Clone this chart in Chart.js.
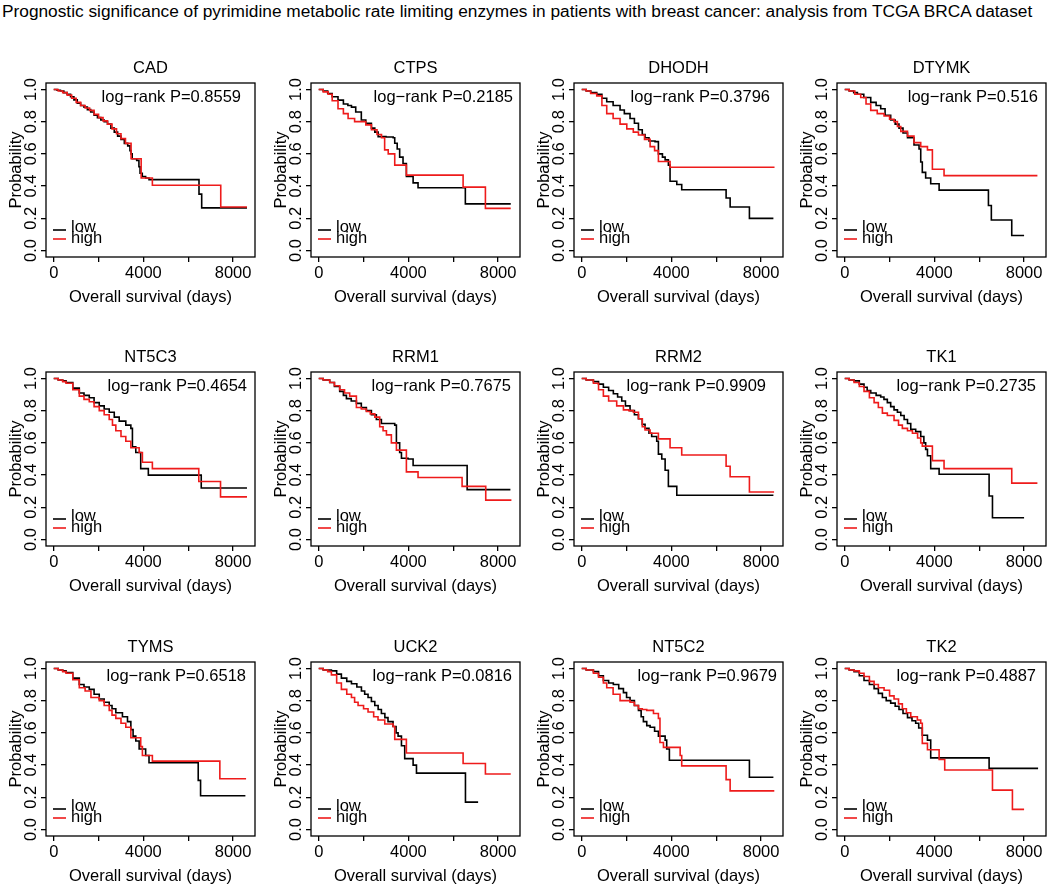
<!DOCTYPE html>
<html>
<head>
<meta charset="utf-8">
<title>Pyrimidine enzymes survival</title>
<script src="https://cdn.jsdelivr.net/npm/chart.js@4.4.1/dist/chart.umd.min.js"></script>
<style>
  html, body { margin: 0; padding: 0; background: #fff; overflow: hidden; }
  body { width: 1048px; height: 889px; position: relative; }
  #title { position: absolute; left: 2px; top: 1px; font: 17.3px 'Liberation Sans', Arial, sans-serif; color: #000; white-space: nowrap; }
  canvas { position: absolute; }
</style>
</head>
<body>
<div id="title">Prognostic significance of pyrimidine metabolic rate limiting enzymes in patients with breast cancer: analysis from TCGA BRCA dataset</div>
<script>
// genes and log-rank p values, left to right, top to bottom
const genes = ['CAD', 'CTPS', 'DHODH', 'DTYMK', 'NT5C3', 'RRM1', 'RRM2', 'TK1', 'TYMS', 'UCK2', 'NT5C2', 'TK2'];
const pValues = ['0.8559', '0.2185', '0.3796', '0.516', '0.4654', '0.7675', '0.9909', '0.2735', '0.6518', '0.0816', '0.9679', '0.4887'];

const xTicks = [0, 2000, 4000, 6000, 8000];
const xLabels = [0, 4000, 8000];
const yTicks = [0, 0.2, 0.4, 0.6, 0.8, 1.0];

// Kaplan-Meier steps, [days, survival]
const lowCAD = [[0,1],[150,0.995],[300,0.99],[450,0.98],[600,0.97],[750,0.955],[900,0.935],[1050,0.915],[1200,0.9],[1350,0.89],[1500,0.875],[1650,0.86],[1800,0.84],[1950,0.825],[2100,0.81],[2250,0.8],[2400,0.785],[2550,0.76],[2700,0.735],[2850,0.71],[3000,0.69],[3150,0.665],[3300,0.65],[3400,0.62],[3450,0.6],[3500,0.57],[3700,0.56],[3800,0.52],[3850,0.48],[3950,0.46],[4100,0.45],[4250,0.44],[6480,0.35],[6600,0.265],[8620,0.265]];
const highCAD = [[0,1],[200,0.99],[400,0.98],[600,0.965],[800,0.945],[1000,0.92],[1200,0.9],[1400,0.885],[1600,0.87],[1800,0.845],[2000,0.825],[2200,0.805],[2400,0.785],[2600,0.755],[2800,0.725],[3000,0.695],[3200,0.665],[3450,0.57],[3900,0.45],[4400,0.405],[7450,0.27],[8620,0.27]];

const lowCTPS = [[0,1],[200,0.99],[400,0.975],[600,0.955],[860,0.934],[1100,0.91],[1300,0.9],[1460,0.89],[1650,0.86],[1900,0.81],[2100,0.79],[2350,0.76],[2500,0.735],[2650,0.707],[3000,0.705],[3320,0.7],[3390,0.666],[3500,0.63],[3610,0.58],[3760,0.54],[3910,0.46],[4210,0.42],[4430,0.39],[6540,0.29],[8565,0.29]];
const highCTPS = [[0,1],[200,0.985],[420,0.97],[600,0.93],[860,0.88],[1100,0.85],[1310,0.82],[1600,0.8],[1900,0.8],[2100,0.78],[2350,0.75],[2600,0.72],[2800,0.7],[2940,0.625],[3100,0.6],[3390,0.53],[3910,0.468],[6440,0.394],[7435,0.262],[8565,0.262]];

const lowDHODH = [[0,1],[200,0.99],[400,0.98],[670,0.97],[900,0.945],[1115,0.924],[1400,0.9],[1710,0.872],[1900,0.85],[2155,0.82],[2350,0.79],[2530,0.75],[2700,0.72],[2825,0.7],[3000,0.68],[3270,0.676],[3420,0.6],[3600,0.58],[3720,0.563],[3865,0.53],[3940,0.43],[4240,0.41],[4460,0.377],[6440,0.326],[6620,0.27],[7480,0.2],[8550,0.2]];
const highDHODH = [[0,1],[200,0.99],[400,0.975],[670,0.96],[900,0.9],[1115,0.85],[1400,0.82],[1710,0.785],[2010,0.755],[2300,0.735],[2530,0.717],[2800,0.69],[3050,0.645],[3250,0.62],[3420,0.553],[3940,0.517],[8600,0.517]];

const lowDTYMK = [[0,1],[200,0.99],[400,0.98],[565,0.97],[850,0.95],[1160,0.92],[1400,0.9],[1605,0.88],[1800,0.84],[2050,0.81],[2250,0.785],[2420,0.76],[2600,0.73],[2800,0.7],[3090,0.655],[3315,0.63],[3390,0.55],[3460,0.485],[3610,0.45],[3835,0.415],[4210,0.375],[6410,0.28],[6540,0.19],[7450,0.093],[8000,0.093]];
const highDTYMK = [[0,1],[200,0.99],[450,0.97],[713,0.95],[950,0.91],[1160,0.87],[1450,0.85],[1755,0.835],[2000,0.815],[2200,0.8],[2350,0.77],[2500,0.74],[2800,0.71],[3090,0.67],[3390,0.645],[3690,0.625],[3910,0.505],[4430,0.465],[8595,0.465]];

const lowNT5C3 = [[0,1],[200,0.99],[400,0.985],[550,0.975],[850,0.94],[1140,0.91],[1350,0.895],[1585,0.88],[1800,0.85],[2030,0.83],[2250,0.81],[2475,0.79],[2700,0.76],[2920,0.735],[3215,0.71],[3440,0.69],[3510,0.575],[3660,0.54],[3880,0.44],[4220,0.4],[6580,0.32],[8620,0.32]];
const highNT5C3 = [[0,1],[200,0.99],[400,0.98],[550,0.97],[850,0.93],[1140,0.89],[1350,0.87],[1585,0.855],[1800,0.825],[2030,0.8],[2250,0.775],[2475,0.745],[2620,0.71],[2770,0.675],[3000,0.64],[3215,0.61],[3440,0.57],[3810,0.54],[3955,0.48],[4400,0.44],[6470,0.36],[7440,0.265],[8620,0.265]];

const lowRRM1 = [[0,1],[200,0.99],[490,0.975],[700,0.95],[935,0.92],[1100,0.895],[1235,0.875],[1450,0.86],[1680,0.845],[1900,0.82],[2125,0.8],[2350,0.775],[2570,0.745],[2795,0.72],[3390,0.71],[3465,0.6],[3610,0.54],[3690,0.505],[3985,0.5],[4210,0.46],[6620,0.31],[8550,0.31]];
const highRRM1 = [[0,1],[200,0.99],[490,0.975],[700,0.955],[935,0.93],[1150,0.91],[1380,0.89],[1680,0.82],[1900,0.81],[2125,0.795],[2300,0.78],[2500,0.76],[2720,0.7],[2870,0.675],[3020,0.65],[3240,0.6],[3465,0.555],[3700,0.555],[3910,0.42],[4430,0.385],[6395,0.33],[7450,0.245],[8595,0.245]];

const lowRRM2 = [[0,1],[200,0.99],[520,0.98],[750,0.965],[965,0.945],[1200,0.925],[1410,0.905],[1600,0.885],[1785,0.86],[1950,0.83],[2155,0.8],[2350,0.775],[2530,0.75],[2700,0.715],[2825,0.69],[3000,0.66],[3120,0.64],[3345,0.61],[3420,0.53],[3570,0.5],[3720,0.43],[3865,0.33],[4240,0.275],[8550,0.275]];
const highRRM2 = [[0,1],[200,0.99],[520,0.97],[750,0.93],[965,0.89],[1200,0.86],[1560,0.83],[1860,0.805],[2100,0.8],[2305,0.79],[2530,0.75],[2700,0.7],[2825,0.68],[3050,0.66],[3420,0.625],[3940,0.57],[4460,0.525],[6440,0.455],[6620,0.39],[7480,0.295],[8580,0.295]];

const lowTK1 = [[0,1],[200,0.99],[415,0.985],[650,0.965],[860,0.945],[1000,0.925],[1160,0.91],[1400,0.895],[1605,0.885],[1750,0.87],[1900,0.85],[2050,0.825],[2200,0.805],[2350,0.79],[2500,0.77],[2650,0.745],[2800,0.72],[2945,0.685],[3165,0.67],[3390,0.64],[3530,0.6],[3610,0.56],[3690,0.52],[3835,0.44],[4210,0.405],[6440,0.27],[6590,0.135],[8000,0.135]];
const highTK1 = [[0,1],[200,0.99],[415,0.975],[650,0.95],[860,0.92],[1100,0.88],[1310,0.85],[1500,0.82],[1680,0.785],[1900,0.77],[2200,0.74],[2400,0.71],[2570,0.69],[2800,0.675],[3020,0.66],[3250,0.63],[3390,0.6],[3460,0.58],[3910,0.49],[4430,0.44],[7450,0.35],[8595,0.35]];

const lowTYMS = [[0,1],[200,0.99],[400,0.985],[550,0.975],[850,0.94],[1140,0.9],[1350,0.885],[1585,0.87],[1800,0.84],[2030,0.81],[2250,0.79],[2475,0.77],[2600,0.75],[2770,0.725],[3065,0.7],[3290,0.67],[3440,0.62],[3540,0.58],[3660,0.55],[3810,0.5],[4100,0.46],[4250,0.415],[6445,0.305],[6550,0.21],[8550,0.21]];
const highTYMS = [[0,1],[200,0.99],[400,0.98],[550,0.97],[850,0.93],[1140,0.88],[1400,0.86],[1660,0.82],[2030,0.8],[2250,0.77],[2475,0.74],[2600,0.71],[2770,0.69],[3000,0.66],[3215,0.635],[3440,0.57],[3880,0.515],[3955,0.46],[4400,0.425],[7410,0.315],[8580,0.315]];

const lowUCK2 = [[0,1],[200,0.99],[565,0.985],[800,0.965],[1010,0.94],[1250,0.92],[1460,0.905],[1700,0.885],[1905,0.86],[2050,0.84],[2200,0.82],[2350,0.795],[2500,0.77],[2650,0.745],[2795,0.72],[2950,0.695],[3090,0.67],[3315,0.64],[3450,0.6],[3540,0.58],[3690,0.52],[3835,0.44],[4210,0.4],[4360,0.35],[6545,0.17],[7110,0.17]];
const highUCK2 = [[0,1],[200,0.99],[400,0.98],[565,0.96],[800,0.91],[1010,0.87],[1250,0.84],[1460,0.82],[1600,0.79],[1755,0.77],[2000,0.75],[2200,0.73],[2450,0.7],[2645,0.68],[2945,0.655],[3315,0.64],[3390,0.56],[3910,0.475],[6440,0.41],[7435,0.345],[8565,0.345]];

const lowNT5C2 = [[0,1],[200,0.99],[520,0.98],[750,0.955],[965,0.925],[1200,0.91],[1410,0.9],[1650,0.875],[1860,0.85],[2000,0.82],[2155,0.8],[2350,0.77],[2530,0.74],[2650,0.7],[2750,0.67],[2900,0.645],[3050,0.635],[3250,0.61],[3420,0.58],[3720,0.555],[3790,0.5],[3910,0.43],[7480,0.325],[8550,0.325]];
const highNT5C2 = [[0,1],[200,0.99],[520,0.97],[750,0.945],[965,0.91],[1115,0.88],[1400,0.84],[1710,0.8],[1950,0.8],[2155,0.79],[2350,0.77],[2530,0.75],[2700,0.745],[2900,0.74],[3200,0.72],[3420,0.69],[3490,0.54],[3645,0.51],[4390,0.46],[4460,0.395],[6440,0.31],[6620,0.24],[8590,0.24]];

const lowTK2 = [[0,1],[200,0.99],[415,0.98],[650,0.955],[860,0.925],[1100,0.9],[1310,0.875],[1500,0.845],[1680,0.82],[1850,0.8],[2050,0.785],[2250,0.765],[2420,0.745],[2600,0.72],[2800,0.695],[3000,0.675],[3165,0.66],[3300,0.63],[3460,0.585],[3690,0.555],[3835,0.445],[6440,0.38],[8625,0.38]];
const highTK2 = [[0,1],[200,0.99],[415,0.985],[650,0.97],[860,0.95],[1100,0.92],[1310,0.9],[1500,0.88],[1755,0.865],[2000,0.83],[2200,0.81],[2400,0.78],[2570,0.75],[2750,0.725],[2945,0.7],[3240,0.68],[3390,0.66],[3460,0.535],[3690,0.495],[4210,0.435],[4460,0.37],[6590,0.245],[7480,0.125],[8000,0.125]];

const lowCurves = [lowCAD, lowCTPS, lowDHODH, lowDTYMK, lowNT5C3, lowRRM1, lowRRM2, lowTK1, lowTYMS, lowUCK2, lowNT5C2, lowTK2];
const highCurves = [highCAD, highCTPS, highDHODH, highDTYMK, highNT5C3, highRRM1, highRRM2, highTK1, highTYMS, highUCK2, highNT5C2, highTK2];

// layout (pixels)
const boxLeft = [46, 311, 574, 837];
const boxTop = [83, 372, 662];
const BOX_W = 209, BOX_H = 174;
const Y_AXIS_W = 46, X_AXIS_H = 55, TOP_PAD = 28, RIGHT_PAD = 2;
const pInset = [14, 7, 13, 8, 8, 9, 17, 10, 9, 8, 6, 10];

const FAMILY = "'Liberation Sans', Arial, sans-serif";
const FONT = { family: FAMILY, size: 16.5 };
const RED = '#ee1b1b';

// box, panel title, p value and the little legend
const panelDeco = {
	id: 'panelDeco',
	afterDatasetsDraw( chart, args, opts ){
		const { ctx, chartArea: a } = chart;
		ctx.save();
		ctx.strokeStyle = '#000';
		ctx.lineWidth = 1.3;
		ctx.strokeRect( a.left, a.top, a.right - a.left, a.bottom - a.top );
		ctx.fillStyle = '#000';
		ctx.font = `${FONT.size}px ${FAMILY}`;
		ctx.textAlign = 'center';
		ctx.textBaseline = 'middle';
		ctx.fillText( opts.gene, ( a.left + a.right ) / 2, a.top - 15 );
		ctx.textAlign = 'right';
		ctx.fillText( 'log\u2212rank P=' + opts.p, a.right - opts.inset, a.top + 14.5 );
		// legend: low then high
		const rows = [ { line: 27, text: 25.5 }, { line: 18, text: 14 } ];
		ctx.textAlign = 'left';
		ctx.textBaseline = 'alphabetic';
		chart.data.datasets.forEach( ( ds, i ) => {
			ctx.strokeStyle = ds.borderColor;
			ctx.lineWidth = 1.6;
			ctx.beginPath();
			ctx.moveTo( a.left + 7, a.bottom - rows[i].line );
			ctx.lineTo( a.left + 20, a.bottom - rows[i].line );
			ctx.stroke();
			ctx.fillStyle = '#000';
			ctx.fillText( ds.label, a.left + 25, a.bottom - rows[i].text );
		});
		ctx.restore();
	}
};

const toXY = pts => pts.map( p => ({ x: p[0], y: p[1] }) );

genes.forEach( ( gene, i ) => {
	const row = Math.floor( i / 4 ), col = i % 4;
	const cv = document.createElement( 'canvas' );
	cv.width = Y_AXIS_W + BOX_W + RIGHT_PAD;
	cv.height = TOP_PAD + BOX_H + X_AXIS_H;
	cv.style.left = ( boxLeft[col] - Y_AXIS_W ) + 'px';
	cv.style.top = ( boxTop[row] - TOP_PAD ) + 'px';
	document.body.appendChild( cv );

	new Chart( cv, {
		type: 'line',
		data: {
			datasets: [
				{ label: 'low', data: toXY( lowCurves[i] ), borderColor: '#000', order: 1 },
				{ label: 'high', data: toXY( highCurves[i] ), borderColor: RED, order: 0 }
			]
		},
		options: {
			responsive: false,
			animation: false,
			layout: { padding: { top: TOP_PAD, right: RIGHT_PAD, left: 0, bottom: 0 } },
			elements: {
				point: { radius: 0 },
				line: { borderWidth: 1.6, tension: 0, stepped: true, fill: false }
			},
			plugins: {
				legend: { display: false },
				tooltip: { enabled: false },
				panelDeco: { gene: gene, p: pValues[i], inset: pInset[i] }
			},
			scales: {
				x: {
					type: 'linear',
					min: -345,
					max: 8978,
					afterBuildTicks: s => { s.ticks = xTicks.map( v => ({ value: v }) ); },
					afterFit: s => { s.height = X_AXIS_H; s.paddingLeft = 0; s.paddingRight = 0; },
					ticks: {
						callback: v => xLabels.includes( v ) ? String( v ) : '',
						autoSkip: false, maxRotation: 0, minRotation: 0,
						padding: 2, color: '#000', font: FONT
					},
					grid: { drawOnChartArea: false, tickLength: 5, color: '#000', lineWidth: 1.3 },
					border: { display: false },
					title: { display: true, text: 'Overall survival (days)', color: '#000', font: FONT, padding: { top: 0, bottom: 5 } }
				},
				y: {
					type: 'linear',
					min: -0.04,
					max: 1.04,
					afterBuildTicks: s => { s.ticks = yTicks.map( v => ({ value: v }) ); },
					afterFit: s => { s.width = Y_AXIS_W; s.paddingTop = 0; s.paddingBottom = 0; },
					ticks: {
						callback: v => v.toFixed( 1 ),
						autoSkip: false, minRotation: 90, maxRotation: 90,
						crossAlign: 'center', padding: -2, color: '#000', font: FONT
					},
					grid: { drawOnChartArea: false, tickLength: 5, color: '#000', lineWidth: 1.3 },
					border: { display: false },
					title: { display: true, text: 'Probability', color: '#000', font: FONT, padding: { top: 7, bottom: 0 } }
				}
			}
		},
		plugins: [ panelDeco ]
	});
});
</script>
</body>
</html>
